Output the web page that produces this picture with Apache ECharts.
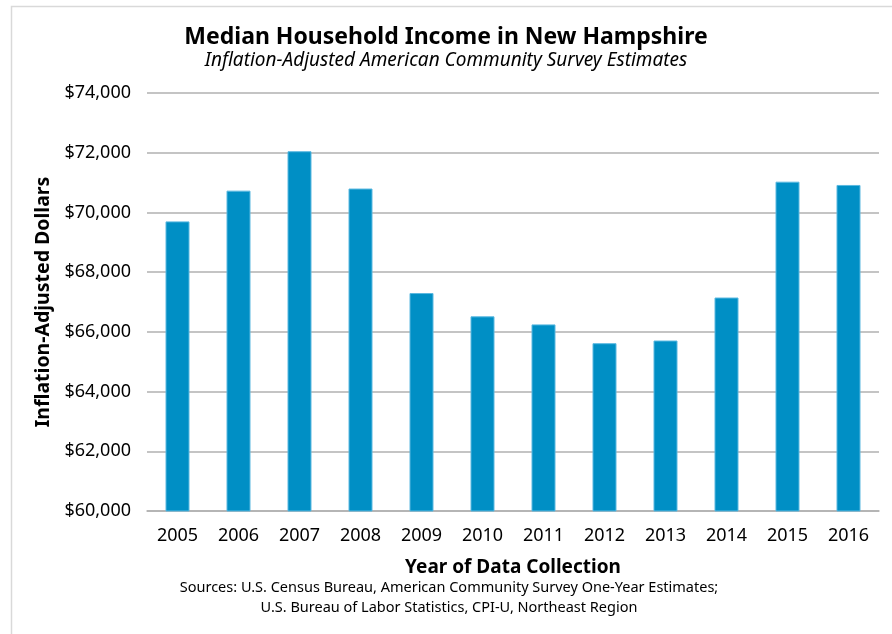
<!DOCTYPE html>
<html><head><meta charset="utf-8">
<script src="https://cdn.jsdelivr.net/npm/echarts@6/dist/echarts.min.js"></script>
<style>html,body{margin:0;padding:0;background:#fff}#c{width:892px;height:634px}</style>
</head><body><div id="c"></div>
<script>
const years = ['2005','2006','2007','2008','2009','2010','2011','2012','2013','2014','2015','2016'];
const income = [69700, 70730, 72050, 70800, 67300, 66520, 66250, 65620, 65710, 67150, 71030, 70920];
const yTicks = {min: 60000, max: 74000, interval: 2000};
const sources = ['Sources: U.S. Census Bureau, American Community Survey One-Year Estimates;',
                 'U.S. Bureau of Labor Statistics, CPI-U, Northeast Region'];

const chart = echarts.init(document.getElementById('c'));
const F = '"Noto Sans", sans-serif';
chart.setOption({
  animation: false,
  backgroundColor: '#fff',
  graphic: [
    {type:'rect', shape:{x:11.5,y:6.5,width:900,height:640}, style:{fill:'none', stroke:'#d9d9d9', lineWidth:1.5}, silent:true},
    {type:'text', x:449, y:588, style:{text:sources[0], font:'14.5px '+F, fill:'#000', textAlign:'center', textVerticalAlign:'middle'}},
    {type:'text', x:449, y:608, style:{text:sources[1], font:'14.5px '+F, fill:'#000', textAlign:'center', textVerticalAlign:'middle'}}
  ],
  title: {
    text: 'Median Household Income in New Hampshire',
    subtext: 'Inflation-Adjusted American Community Survey Estimates',
    left: 'center', top: 21, itemGap: 2,
    textStyle: {fontFamily: F, fontSize: 23, fontWeight: 'bold', color: '#000'},
    subtextStyle: {fontFamily: F, fontSize: 19, fontStyle: 'italic', color: '#000'}
  },
  grid: {left: 147, right: 13, top: 93, bottom: 123},
  xAxis: {
    type: 'category', data: years,
    name: 'Year of Data Collection', nameLocation: 'middle', nameGap: 47,
    nameTextStyle: {fontFamily: F, fontSize: 19, fontWeight: 'bold', color: '#000'},
    axisLine: {lineStyle: {color: '#b0b0b0', width: 1.5}},
    axisTick: {show: false},
    axisLabel: {fontFamily: F, fontSize: 18, color: '#000', margin: 16}
  },
  yAxis: {
    type: 'value', min: yTicks.min, max: yTicks.max, interval: yTicks.interval,
    name: 'Inflation-Adjusted Dollars', nameLocation: 'middle', nameGap: 92,
    nameTextStyle: {fontFamily: F, fontSize: 19.5, fontWeight: 'bold', color: '#000'},
    axisLine: {show: false}, axisTick: {show: false},
    splitLine: {lineStyle: {color: '#b0b0b0', width: 1.5}},
    axisLabel: {fontFamily: F, fontSize: 18, color: '#000', margin: 16,
      formatter: v => '$' + v.toLocaleString('en-US')}
  },
  series: [{
    type: 'bar', data: income, barWidth: 24,
    itemStyle: {color: '#008fc5', borderColor: '#5ab8e0', borderWidth: 1}
  }]
});
</script></body></html>
